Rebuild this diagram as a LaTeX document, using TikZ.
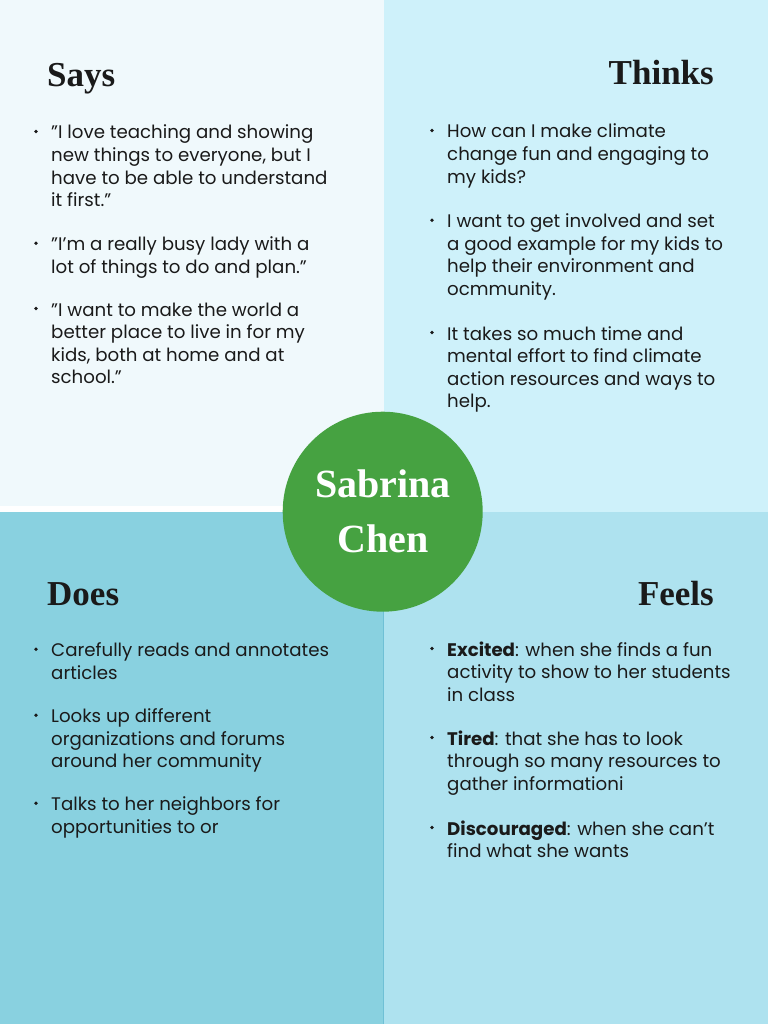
\documentclass[tikz,border=0pt]{standalone}
\usepackage{fontspec}
\setmainfont{Poppins}
\newfontfamily\headfont{Liberation Serif}
\definecolor{qtl}{HTML}{F0F9FC}
\definecolor{qtr}{HTML}{CEF1FA}
\definecolor{qbl}{HTML}{89D1E0}
\definecolor{qbr}{HTML}{AEE2EF}
\definecolor{divline}{HTML}{6FC0D5}
\definecolor{green}{HTML}{46A241}
\definecolor{ink}{HTML}{1A1A1A}
\tikzset{
  heading/.style={inner sep=0pt, font=\headfont\bfseries\fontsize{35}{35}\selectfont, text=ink},
  item/.style={inner sep=0pt, anchor=base west, align=left, text=ink, font=\fontsize{18.2}{22.6}\selectfont},
  dot/.style={circle, fill=ink, inner sep=0pt, minimum size=3.8pt},
}
\begin{document}
\begin{tikzpicture}[x=1pt,y=-1pt]
\useasboundingbox (0,0) rectangle (768,1024);
% quadrants
\fill[white] (0,0) rectangle (768,1024);
\fill[qtl] (0,0) rectangle (383.5,506);
\fill[qtr] (383.5,0) rectangle (768,511.7);
\fill[qbl] (0,511.7) rectangle (383.5,1024);
\fill[qbr] (383.5,511.7) rectangle (768,1024);
\draw[divline, line width=1pt] (383.2,511.7) -- (383.2,1024);
% headings
\node[heading, anchor=base west] (says) at (47,87) {Says};
\node[heading, anchor=base east] (thinks) at (714,85) {Thinks};
\node[heading, anchor=base west] (does) at (47,605) {Does};
\node[heading, anchor=base east] (feels) at (714,605) {Feels};
% Says (anchored at last line baseline)
\node[item] (s1) at (51,139+3*22.6) {”I love teaching and showing\\new things to everyone, but I\\have to be able to understand\\it first.”};
\node[item] (s2) at (51,250.7+22.6) {”I’m a really busy lady with a\\lot of things to do and plan.”};
\node[item] (s3) at (51,316+3*22.6) {”I want to make the world a\\better place to live in for my\\kids, both at home and at\\school.”};
% Thinks
\node[item] (t1) at (447,138+2*22.6) {How can I make climate\\change fun and engaging to\\my kids?};
\node[item] (t2) at (447,227.7+3*22.6) {I want to get involved and set\\a good example for my kids to\\help their environment and\\ocmmunity.};
\node[item] (t3) at (447,340+3*22.6) {It takes so much time and\\mental effort to find climate\\action resources and ways to\\help.};
% Does
\node[item] (d1) at (51,656.7+22.6) {Carefully reads and annotates\\articles};
\node[item] (d2) at (51,722.7+2*22.6) {Looks up different\\organizations and forums\\around her community};
\node[item] (d3) at (51,810.7+22.6) {Talks to her neighbors for\\opportunities to or};
% Feels
\node[item] (f1) at (447,656+2*22.6) {\textbf{Excited}: when she finds a fun\\activity to show to her students\\in class};
\node[item] (f2) at (447,745+2*22.6) {\textbf{Tired}: that she has to look\\through so many resources to\\gather informationi};
\node[item] (f3) at (447,835+22.6) {\textbf{Discouraged}: when she can’t\\find what she wants};
% bullets
\foreach \n/\y in {a1/139,a2/250.7,a3/316,c1/656.7,c2/722.7,c3/810.7}
  \node[dot] (b\n) at (36,\y-7.5) {};
\foreach \n/\y in {e1/138,e2/227.7,e3/340,g1/656,g2/745,g3/835}
  \node[dot] (b\n) at (432,\y-7.5) {};
% center circle
\node[circle, fill=green, minimum size=200pt, inner sep=0pt] (name) at (382.7,511.7) {};
\node[inner sep=0pt, anchor=base, text=white, font=\headfont\bfseries\fontsize{40}{40}\selectfont] (n1) at (383,497) {Sabrina};
\node[inner sep=0pt, anchor=base, text=white, font=\headfont\bfseries\fontsize{40}{40}\selectfont] (n2) at (383,552) {Chen};
\end{tikzpicture}
\end{document}
